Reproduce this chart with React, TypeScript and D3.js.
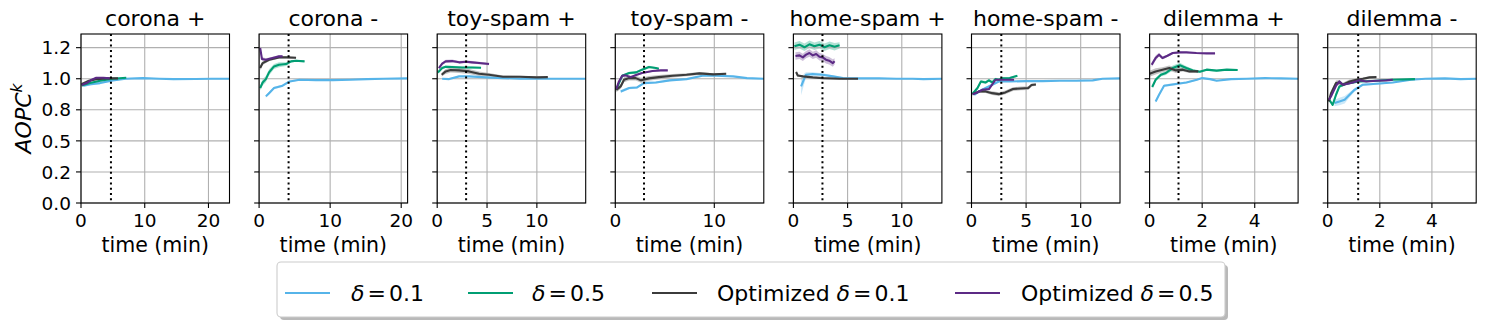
import React from 'react';
import * as d3 from 'd3';

// each point: [time (min), mean AOPC^k, half-width of the shaded band]
type Pt = [number, number, number];

const panelTitles = ['corona +', 'corona -', 'toy-spam +', 'toy-spam -', 'home-spam +', 'home-spam -', 'dilemma +', 'dilemma -'];
const xMaxes = [23.3, 20.9, 14.9, 15.0, 13.7, 13.6, 5.65, 5.7];
const xTickValues = [[0, 10, 20], [0, 10, 20], [0, 5, 10], [0, 10], [0, 5, 10], [0, 5, 10], [0, 2, 4], [0, 2, 4]];
const cutoffTimes = [4.7, 4.15, 2.9, 2.9, 2.68, 2.73, 1.1, 1.17];
const yTickValues = [0, 0.25, 0.5, 0.75, 1.0, 1.25];
const yTickLabels = ['0.0', '0.2', '0.5', '0.8', '1.0', '1.2'];

const seriesLabels = ['0.1', '0.5', '0.1', '0.5'];
const seriesPrefix = ['', '', 'Optimized ', 'Optimized '];
const seriesColors = ['#56b4e9', '#009e73', '#3b3b3b', '#5c2a85'];

// corona +
const coronaPosD01: Pt[] = [[0.35, 0.944, 0.01], [1.5, 0.955, 0.01], [3, 0.965, 0.008], [5, 0.987, 0.006], [7, 1.0, 0.005], [9.7, 1.005, 0.004], [12.3, 1.0, 0.003], [14.5, 0.997, 0.003], [18, 0.998, 0.002], [20.5, 1.0, 0.002], [23.3, 1.0, 0.002]];
const coronaPosD05: Pt[] = [[0.1, 0.946, 0.01], [1.4, 0.965, 0.008], [3, 0.984, 0.006], [5, 1.0, 0.005], [7.1, 1.008, 0.004]];
const coronaPosO01: Pt[] = [[0.1, 0.957, 0.01], [1.1, 0.981, 0.008], [2.4, 0.997, 0.006], [4, 1.003, 0.005], [5.8, 1.003, 0.004]];
const coronaPosO05: Pt[] = [[0.1, 0.949, 0.01], [0.9, 0.965, 0.008], [1.7, 0.992, 0.007], [2.4, 1.008, 0.006], [3.5, 1.008, 0.005], [4.5, 1.003, 0.004]];

// corona -
const coronaNegD01: Pt[] = [[0.95, 0.858, 0.012], [1.4, 0.884, 0.012], [2.1, 0.925, 0.01], [3.3, 0.944, 0.01], [4.3, 0.978, 0.008], [5.7, 0.992, 0.006], [8, 0.989, 0.005], [10.4, 0.989, 0.004], [12.8, 0.992, 0.004], [15.2, 0.997, 0.003], [17.5, 1.0, 0.003], [20.9, 1.003, 0.002]];
const coronaNegD05: Pt[] = [[0.15, 0.925, 0.02], [0.5, 0.97, 0.025], [0.95, 0.997, 0.025], [1.4, 1.051, 0.025], [2.1, 1.099, 0.02], [2.8, 1.113, 0.02], [3.8, 1.118, 0.015], [4.5, 1.14, 0.01], [5.2, 1.145, 0.008], [6.4, 1.14, 0.006]];
const coronaNegO01: Pt[] = [[0.15, 1.086, 0.02], [0.5, 1.126, 0.015], [1.4, 1.153, 0.012], [2.8, 1.172, 0.01], [3.8, 1.172, 0.008], [5.2, 1.169, 0.006]];
const coronaNegO05: Pt[] = [[0.15, 1.247, 0.02], [0.4, 1.159, 0.015], [0.95, 1.153, 0.012], [1.9, 1.167, 0.01], [2.8, 1.18, 0.008], [3.3, 1.18, 0.008]];

// toy-spam +
const toyPosD01: Pt[] = [[0.5, 1.0, 0.006], [1.2, 0.997, 0.006], [2.2, 1.019, 0.006], [3.2, 1.019, 0.005], [4.9, 1.011, 0.004], [6.6, 1.005, 0.004], [8.3, 1.0, 0.003], [11.8, 1.0, 0.003], [14.9, 1.0, 0.002]];
const toyPosD05: Pt[] = [[0.07, 1.051, 0.01], [0.5, 1.086, 0.01], [0.85, 1.097, 0.01], [1.5, 1.094, 0.01], [2.5, 1.091, 0.008], [3.5, 1.091, 0.008], [4.4, 1.089, 0.006]];
const toyPosO01: Pt[] = [[0.45, 1.032, 0.015], [0.85, 1.059, 0.02], [1.35, 1.07, 0.02], [2.2, 1.067, 0.02], [3.2, 1.059, 0.02], [4.2, 1.04, 0.018], [5.2, 1.032, 0.015], [6.6, 1.016, 0.01], [8.3, 1.016, 0.008], [10, 1.011, 0.006], [11.1, 1.013, 0.005]];
const toyPosO05: Pt[] = [[0.17, 1.086, 0.012], [0.5, 1.121, 0.012], [0.85, 1.14, 0.012], [1.5, 1.142, 0.012], [2.2, 1.132, 0.01], [2.9, 1.137, 0.01], [3.5, 1.132, 0.01], [4.2, 1.126, 0.01], [5.2, 1.118, 0.01]];

// toy-spam -
const toyNegD01: Pt[] = [[0.55, 0.898, 0.012], [1.4, 0.925, 0.01], [2.2, 0.93, 0.01], [2.9, 0.965, 0.01], [4.1, 0.97, 0.008], [5.5, 0.987, 0.008], [7.2, 0.997, 0.006], [8.8, 1.024, 0.005], [10.2, 1.024, 0.005], [11.9, 1.019, 0.004], [13.3, 1.005, 0.004], [15, 1.0, 0.003]];
const toyNegD05: Pt[] = [[0.1, 0.911, 0.01], [0.37, 0.965, 0.01], [0.7, 1.024, 0.01], [1.4, 1.046, 0.01], [2.1, 1.051, 0.01], [2.7, 1.073, 0.01], [3.4, 1.094, 0.01], [4.1, 1.086, 0.008], [4.4, 1.081, 0.008]];
const toyNegO01: Pt[] = [[0.1, 0.911, 0.02], [0.54, 0.938, 0.02], [0.88, 0.992, 0.02], [1.4, 1.005, 0.02], [2.07, 1.005, 0.02], [2.6, 0.987, 0.02], [3.4, 1.003, 0.02], [4.4, 1.013, 0.018], [5.8, 1.024, 0.015], [7.2, 1.032, 0.012], [8.5, 1.043, 0.012], [9.9, 1.035, 0.01], [11.2, 1.04, 0.008]];
const toyNegO05: Pt[] = [[0.1, 0.917, 0.01], [0.37, 0.978, 0.01], [0.7, 1.024, 0.01], [1.05, 1.027, 0.01], [1.56, 1.013, 0.01], [2.1, 1.03, 0.008], [2.7, 1.046, 0.008], [3.76, 1.062, 0.006], [4.6, 1.067, 0.006], [5.3, 1.067, 0.005]];

// home-spam +
const homePosD01: Pt[] = [[0.71, 0.938, 0.07], [1.02, 1.005, 0.04], [1.17, 1.032, 0.02], [1.79, 1.038, 0.015], [2.7, 1.032, 0.012], [3.64, 1.019, 0.01], [4.57, 1.005, 0.006], [5.8, 1.003, 0.004], [7.9, 1.003, 0.004], [9.5, 1.0, 0.003], [11, 1.0, 0.003], [12, 0.997, 0.003], [13.7, 1.0, 0.002]];
const homePosD05: Pt[] = [[0.09, 1.261, 0.03], [0.56, 1.274, 0.03], [1.02, 1.253, 0.03], [1.48, 1.277, 0.03], [1.94, 1.261, 0.03], [2.4, 1.274, 0.03], [2.87, 1.253, 0.03], [3.33, 1.269, 0.03], [3.8, 1.258, 0.03], [4.26, 1.269, 0.025]];
const homePosO01: Pt[] = [[0.25, 1.054, 0.012], [0.4, 1.026, 0.01], [0.87, 1.019, 0.008], [1.79, 1.011, 0.006], [2.7, 1.005, 0.005], [4.26, 1.0, 0.004], [5.96, 1.0, 0.003]];
const homePosO05: Pt[] = [[0.19, 1.183, 0.03], [0.56, 1.188, 0.03], [0.87, 1.172, 0.03], [1.17, 1.194, 0.03], [1.48, 1.207, 0.03], [1.79, 1.188, 0.03], [2.1, 1.199, 0.03], [2.4, 1.177, 0.03], [2.7, 1.172, 0.03], [3.0, 1.153, 0.03], [3.3, 1.145, 0.03], [3.64, 1.126, 0.03], [3.8, 1.14, 0.025]];

// home-spam -
const homeNegD01: Pt[] = [[0.25, 0.871, 0.01], [0.7, 0.898, 0.01], [1.3, 0.925, 0.01], [1.9, 0.952, 0.008], [2.5, 0.978, 0.006], [3.5, 0.978, 0.005], [5, 0.981, 0.004], [6.5, 0.981, 0.004], [8.1, 0.984, 0.003], [9.6, 0.984, 0.003], [11.1, 0.987, 0.003], [12, 1.0, 0.002], [13.6, 1.003, 0.002]];
const homeNegD05: Pt[] = [[0.1, 0.879, 0.01], [0.55, 0.925, 0.012], [0.86, 0.978, 0.012], [1.3, 0.97, 0.012], [1.6, 0.987, 0.012], [1.9, 0.97, 0.012], [2.2, 0.997, 0.01], [2.5, 0.992, 0.01], [2.85, 1.003, 0.01], [3.5, 1.005, 0.008], [4.2, 1.024, 0.008]];
const homeNegO01: Pt[] = [[0.1, 0.876, 0.01], [0.7, 0.898, 0.012], [1.3, 0.898, 0.012], [1.9, 0.884, 0.015], [2.5, 0.876, 0.015], [3.1, 0.89, 0.015], [3.8, 0.917, 0.015], [4.5, 0.922, 0.015], [5.2, 0.925, 0.015], [5.5, 0.949, 0.012], [5.9, 0.954, 0.01]];
const homeNegO05: Pt[] = [[0.1, 0.876, 0.01], [0.55, 0.89, 0.01], [1.0, 0.911, 0.01], [1.6, 0.917, 0.01], [2.2, 0.992, 0.008], [2.85, 0.992, 0.008], [3.9, 0.992, 0.006]];

// dilemma +
const dilemmaPosD01: Pt[] = [[0.23, 0.817, 0.012], [0.36, 0.871, 0.012], [0.55, 0.944, 0.01], [1.0, 0.957, 0.01], [1.4, 0.97, 0.008], [1.8, 0.992, 0.006], [2.0, 1.005, 0.005], [2.3, 0.997, 0.005], [2.55, 0.984, 0.004], [3.1, 0.997, 0.004], [3.7, 1.0, 0.003], [4.4, 1.005, 0.003], [5.0, 1.003, 0.002], [5.65, 1.0, 0.002]];
const dilemmaPosD05: Pt[] = [[0.1, 0.933, 0.01], [0.23, 0.992, 0.015], [0.43, 1.032, 0.015], [0.62, 1.046, 0.015], [0.88, 1.086, 0.02], [1.15, 1.108, 0.02], [1.4, 1.086, 0.015], [1.65, 1.067, 0.012], [1.91, 1.056, 0.01], [2.17, 1.073, 0.008], [2.55, 1.065, 0.008], [2.94, 1.073, 0.006], [3.35, 1.07, 0.006]];
const dilemmaPosO01: Pt[] = [[0.0, 1.04, 0.025], [0.23, 1.059, 0.025], [0.49, 1.073, 0.02], [0.75, 1.086, 0.02], [1.0, 1.067, 0.02], [1.26, 1.073, 0.015], [1.52, 1.059, 0.012], [1.85, 1.059, 0.01]];
const dilemmaPosO05: Pt[] = [[0.08, 1.113, 0.02], [0.23, 1.167, 0.02], [0.36, 1.194, 0.015], [0.49, 1.167, 0.012], [0.68, 1.185, 0.01], [0.88, 1.207, 0.008], [1.14, 1.212, 0.006], [1.4, 1.212, 0.005], [1.78, 1.207, 0.005], [2.17, 1.204, 0.004], [2.49, 1.204, 0.004]];

// dilemma -
const dilemmaNegD01: Pt[] = [[0.26, 0.804, 0.025], [0.45, 0.817, 0.03], [0.65, 0.831, 0.03], [0.84, 0.871, 0.02], [1.03, 0.911, 0.015], [1.35, 0.952, 0.01], [1.87, 0.96, 0.008], [2.5, 0.97, 0.006], [3.2, 0.992, 0.005], [3.75, 1.0, 0.004], [4.5, 1.003, 0.003], [5.1, 0.997, 0.003], [5.7, 1.0, 0.002]];
const dilemmaNegD05: Pt[] = [[0.06, 0.831, 0.01], [0.19, 0.79, 0.01], [0.32, 0.871, 0.015], [0.45, 0.938, 0.012], [0.7, 0.96, 0.01], [0.97, 0.97, 0.008], [1.23, 0.978, 0.006], [1.87, 0.984, 0.005], [2.45, 0.992, 0.004], [3.35, 0.997, 0.003]];
const dilemmaNegO01: Pt[] = [[0.04, 0.817, 0.02], [0.13, 0.884, 0.02], [0.32, 0.965, 0.02], [0.45, 0.97, 0.02], [0.58, 0.952, 0.015], [0.84, 0.978, 0.015], [1.1, 0.992, 0.012], [1.35, 1.0, 0.01], [1.61, 1.011, 0.01], [1.87, 1.013, 0.01]];
const dilemmaNegO05: Pt[] = [[0.04, 0.831, 0.01], [0.13, 0.858, 0.01], [0.32, 0.944, 0.01], [0.45, 0.978, 0.01], [0.58, 0.952, 0.01], [0.77, 0.96, 0.008], [0.97, 0.97, 0.008], [1.23, 0.987, 0.006], [1.48, 0.978, 0.006], [1.87, 0.984, 0.005], [2.26, 0.987, 0.004], [2.5, 0.992, 0.004]];

const panelSeries: Pt[][][] = [
  [coronaPosD01, coronaPosD05, coronaPosO01, coronaPosO05],
  [coronaNegD01, coronaNegD05, coronaNegO01, coronaNegO05],
  [toyPosD01, toyPosD05, toyPosO01, toyPosO05],
  [toyNegD01, toyNegD05, toyNegO01, toyNegO05],
  [homePosD01, homePosD05, homePosO01, homePosO05],
  [homeNegD01, homeNegD05, homeNegO01, homeNegO05],
  [dilemmaPosD01, dilemmaPosD05, dilemmaPosO01, dilemmaPosO05],
  [dilemmaNegD01, dilemmaNegD05, dilemmaNegO01, dilemmaNegO05],
];

const W = 1486;
const H = 326;
const FONT = 'DejaVu Sans, sans-serif';
const top = 34;
const bottom = 203;
const panelW = 148.5;
const firstLeft = 81;
const panelStep = 178.1;

const y = d3.scaleLinear().domain([0, 1.36]).range([bottom, top]);

const Panel = ({ idx }: { idx: number }) => {
  const left = firstLeft + idx * panelStep;
  const x = d3.scaleLinear().domain([0, xMaxes[idx]]).range([left, left + panelW]);
  const line = d3.line<Pt>().x(d => x(d[0])).y(d => y(d[1]));
  const band = d3.area<Pt>().x(d => x(d[0])).y0(d => y(d[1] - d[2])).y1(d => y(d[1] + d[2]));
  const cx = left + panelW / 2;
  const clipId = `clip${idx}`;

  return (
    <g>
      <defs>
        <clipPath id={clipId}>
          <rect x={left} y={top} width={panelW} height={bottom - top} />
        </clipPath>
      </defs>
      <g clipPath={`url(#${clipId})`}>
        {panelSeries[idx].map((s, i) => (
          <path key={'b' + i} d={band(s) ?? ''} fill={seriesColors[i]} opacity={0.3} />
        ))}
      </g>
      {/* grid */}
      {xTickValues[idx].map(t => (
        <line key={'gx' + t} x1={x(t)} x2={x(t)} y1={top} y2={bottom} stroke="#b0b0b0" strokeWidth={1.1} />
      ))}
      {yTickValues.map(t => (
        <line key={'gy' + t} x1={left} x2={left + panelW} y1={y(t)} y2={y(t)} stroke="#b0b0b0" strokeWidth={1.1} />
      ))}
      <g clipPath={`url(#${clipId})`}>
        {panelSeries[idx].map((s, i) => (
          <path key={'l' + i} d={line(s) ?? ''} fill="none" stroke={seriesColors[i]} strokeWidth={2.1} strokeLinejoin="round" />
        ))}
      </g>
      <line x1={x(cutoffTimes[idx])} x2={x(cutoffTimes[idx])} y1={top} y2={bottom} stroke="#000" strokeWidth={2} strokeDasharray="2,3.3" />
      <rect x={left} y={top} width={panelW} height={bottom - top} fill="none" stroke="#000" strokeWidth={1.1} />
      {/* x axis */}
      {xTickValues[idx].map(t => (
        <g key={'tx' + t}>
          <line x1={x(t)} x2={x(t)} y1={bottom} y2={bottom + 5} stroke="#000" strokeWidth={1.1} />
          <text x={x(t)} y={227} textAnchor="middle" fontSize={18.5} fontFamily={FONT}>{t}</text>
        </g>
      ))}
      {/* y axis */}
      {yTickValues.map((t, k) => (
        <g key={'ty' + t}>
          <line x1={left - 5} x2={left} y1={y(t)} y2={y(t)} stroke="#000" strokeWidth={1.1} />
          {idx === 0 && (
            <text x={left - 10} y={y(t)} dy="0.36em" textAnchor="end" fontSize={18.5} fontFamily={FONT}>{yTickLabels[k]}</text>
          )}
        </g>
      ))}
      <text x={cx} y={26} textAnchor="middle" fontSize={22} fontFamily={FONT}>{panelTitles[idx]}</text>
      <text x={cx} y={252} textAnchor="middle" fontSize={20.5} fontFamily={FONT}>time (min)</text>
    </g>
  );
};

const legendLineX = [285, 468, 652, 955];
const legendTextX = [351, 532, 717, 1021];

const App = () => {
  return (
    <svg width={W} height={H} style={{ position: 'absolute', left: 0, top: 0, background: '#fff' }}>
      <rect x={0} y={0} width={W} height={H} fill="#fff" />
      {panelTitles.map((_, i) => <Panel key={i} idx={i} />)}
      <text transform={`translate(31,${(top + bottom) / 2}) rotate(-90)`} textAnchor="middle" fontSize={22} fontFamily={FONT} fontStyle="italic">
        AOPC<tspan fontSize={15.5} dy={-9}>k</tspan>
      </text>
      {/* legend */}
      <rect x={280} y={265} width={948} height={55} rx={4} fill="#808080" opacity={0.55} />
      <rect x={277} y={262} width={948} height={55} rx={4} fill="#fff" stroke="#cccccc" strokeWidth={1.1} />
      {seriesColors.map((c, i) => (
        <g key={'lg' + i}>
          <line x1={legendLineX[i]} x2={legendLineX[i] + 45} y1={293} y2={293} stroke={c} strokeWidth={2.1} />
          <text x={legendTextX[i]} y={301} fontSize={22} fontFamily={FONT}>
            {seriesPrefix[i]}<tspan fontStyle="italic">δ</tspan><tspan dx={3}>=</tspan><tspan dx={3}>{seriesLabels[i]}</tspan>
          </text>
        </g>
      ))}
    </svg>
  );
};

export default App;
